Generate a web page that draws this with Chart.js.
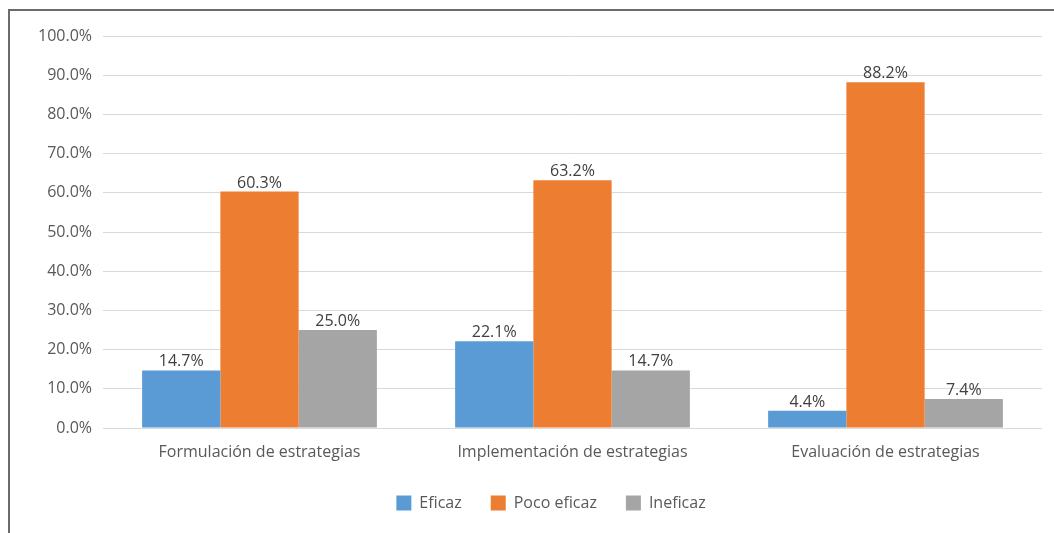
<!DOCTYPE html>
<html>
<head>
<meta charset="utf-8">
<script src="https://cdn.jsdelivr.net/npm/chart.js@4/dist/chart.umd.min.js"></script>
<style>
  html, body { margin: 0; padding: 0; background: #fff; }
  #wrap { position: relative; width: 1054px; height: 533px; }
  #frame { position: absolute; left: 8px; top: 9px; width: 1046px; height: 524px;
           border-left: 2px solid #6b6b6b; border-top: 2px solid #6b6b6b; box-sizing: border-box; pointer-events: none; }
  canvas { position: absolute; left: 0; top: 0; }
</style>
</head>
<body>
<div id="wrap">
  <canvas id="c" width="1054" height="533"></canvas>
  <div id="frame"></div>
</div>
<script>
const categories = ["Formulación de estrategias", "Implementación de estrategias", "Evaluación de estrategias"];
const seriesNames = ["Eficaz", "Poco eficaz", "Ineficaz"];
const eficaz = [14.7, 22.1, 4.4];
const pocoEficaz = [60.3, 63.2, 88.2];
const ineficaz = [25.0, 14.7, 7.4];
const colors = ["#5B9BD5", "#ED7D31", "#A5A5A5"];

const FONT = "'Open Sans', sans-serif";
const FS = 16;

const labelPlugin = {
  id: 'valueLabels',
  afterDatasetsDraw(chart) {
    const ctx = chart.ctx;
    ctx.save();
    ctx.font = FS + "px " + FONT;
    ctx.fillStyle = "#404040";
    ctx.textAlign = "center";
    ctx.textBaseline = "alphabetic";
    chart.data.datasets.forEach((ds, i) => {
      const meta = chart.getDatasetMeta(i);
      meta.data.forEach((bar, j) => {
        ctx.fillText(ds.data[j].toFixed(1) + "%", bar.x, bar.y - 4);
      });
    });
    ctx.restore();
  }
};

const legendShift = {
  id: 'legendShift',
  afterLayout(chart) {
    if (chart.legend) { chart.legend.left += 30; chart.legend.right += 30; }
  }
};

new Chart(document.getElementById('c'), {
  type: 'bar',
  data: {
    labels: categories,
    datasets: [
      { label: seriesNames[0], data: eficaz, backgroundColor: colors[0] },
      { label: seriesNames[1], data: pocoEficaz, backgroundColor: colors[1] },
      { label: seriesNames[2], data: ineficaz, backgroundColor: colors[2] }
    ]
  },
  options: {
    responsive: false,
    animation: false,
    layout: { padding: { top: 36, right: 12, left: 0, bottom: 12 } },
    datasets: { bar: { categoryPercentage: 0.75, barPercentage: 1.0, borderWidth: 0 } },
    scales: {
      x: {
        grid: { display: false },
        border: { display: false },
        ticks: { color: "#595959", font: { family: FONT, size: FS }, padding: 7 },
        afterFit(s) { s.height = 38; }
      },
      y: {
        min: 0, max: 100,
        ticks: { stepSize: 10, color: "#595959", font: { family: FONT, size: FS }, padding: 11,
                 callback: v => v.toFixed(1) + "%" },
        grid: { color: "#d9d9d9", lineWidth: 1, drawTicks: false },
        border: { display: false },
        afterFit(s) { s.width = 103; }
      }
    },
    plugins: {
      legend: {
        position: 'bottom',
        labels: { boxWidth: 15, boxHeight: 15, padding: 29, color: "#595959",
                  font: { family: FONT, size: FS } }
      },
      tooltip: { enabled: false }
    }
  },
  plugins: [labelPlugin, legendShift]
});
</script>
</body>
</html>
